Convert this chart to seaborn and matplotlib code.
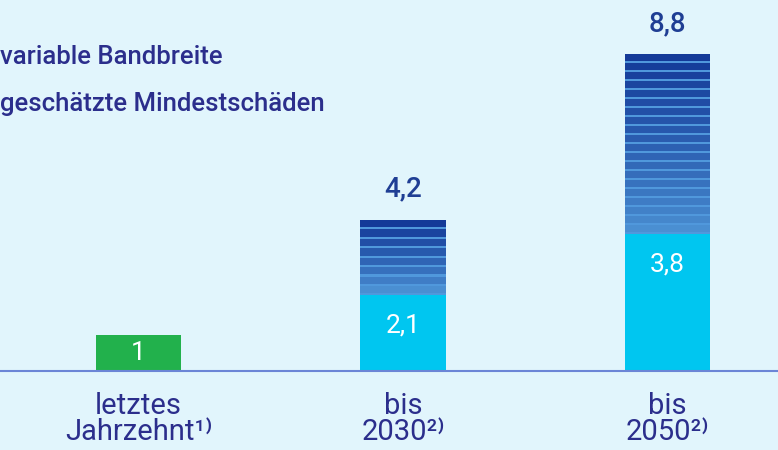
import numpy as np
import pandas as pd
import matplotlib
matplotlib.use("Agg")
import matplotlib.pyplot as plt
import seaborn as sns
from matplotlib.colors import to_rgb

# ---- data ----
categories = ["letztes\nJahrzehnt\u00b9\u207e", "bis\n2030\u00b2\u207e", "bis\n2050\u00b2\u207e"]
base_values = [1.0, 2.1, 3.8]          # geschätzte Mindestschäden
total_values = [np.nan, 4.2, 8.8]      # obere Grenze der variablen Bandbreite
base_labels = ["1", "2,1", "3,8"]
total_labels = ["", "4,2", "8,8"]
legend_labels = ["variable Bandbreite", "geschätzte Mindestschäden"]

BG = "#e1f5fc"
TXT = "#2b2e8c"
VAL = "#1f3e94"
bar_colors = ["#22b14c", "#00c6f0", "#00c6f0"]

sns.set_theme(style="white")
plt.rcParams["font.family"] = ["Roboto", "DejaVu Sans"]

fig = plt.figure(figsize=(7.78, 4.5), dpi=100, facecolor=BG)
ax = fig.add_axes([0, 79 / 450, 1, 371 / 450])
ax.set_facecolor(BG)

df = pd.DataFrame({"cat": categories, "base": base_values})
width = 0.325
sns.barplot(data=df, x="cat", y="base", hue="cat", palette=bar_colors,
            width=width, legend=False, ax=ax, saturation=1, linewidth=0)

# striped range part
dark = np.array(to_rgb("#143a98"))
light = np.array(to_rgb("#4a8fd2"))
gapc = "#5098dc"
stripe_h = 0.25
for i, (b, t) in enumerate(zip(base_values, total_values)):
    if np.isnan(t):
        continue
    rng = t - b
    ax.bar(i, rng, bottom=b, width=width, color=gapc, linewidth=0)
    n = int(round(rng / stripe_h))
    h = rng / n
    for k in range(n):
        frac = k / max(n - 1, 1)
        c = light * (1 - frac ** 0.8) + dark * frac ** 0.8
        ax.bar(i, h * 0.78, bottom=b + k * h + h * 0.22, width=width,
               color=c, linewidth=0)

# value labels
for i, (b, t) in enumerate(zip(base_values, total_values)):
    ax.text(i, max(b / 2, b - 0.85), base_labels[i], ha="center", va="center",
            color="white", fontsize=19)
    if not np.isnan(t):
        ax.text(i, t + 0.85, total_labels[i], ha="center", va="center",
                color=VAL, fontsize=20, fontweight="medium")

ax.set_xlim(-138.5 / 264.5, (778 - 138.5) / 264.5)
ax.set_ylim(0, 371 / 36)
ax.set_xlabel("")
ax.set_ylabel("")
ax.set_yticks([])
for s in ["top", "right", "left"]:
    ax.spines[s].set_visible(False)
ax.spines["bottom"].set_color("#6b85d6")
ax.spines["bottom"].set_linewidth(1.5)
ax.tick_params(axis="x", length=0, pad=15, labelsize=21, labelcolor=TXT)
for lab in ax.get_xticklabels():
    lab.set_linespacing(0.9)

# legend text (markers cropped off in reference)
fig.text(0.0, 1 - 57 / 450, legend_labels[0], ha="left", va="center",
         color=TXT, fontsize=18.5, fontweight="medium")
fig.text(0.0, 1 - 104 / 450, legend_labels[1], ha="left", va="center",
         color=TXT, fontsize=18.5, fontweight="medium")

fig.savefig("out.png", dpi=100, facecolor=BG)
